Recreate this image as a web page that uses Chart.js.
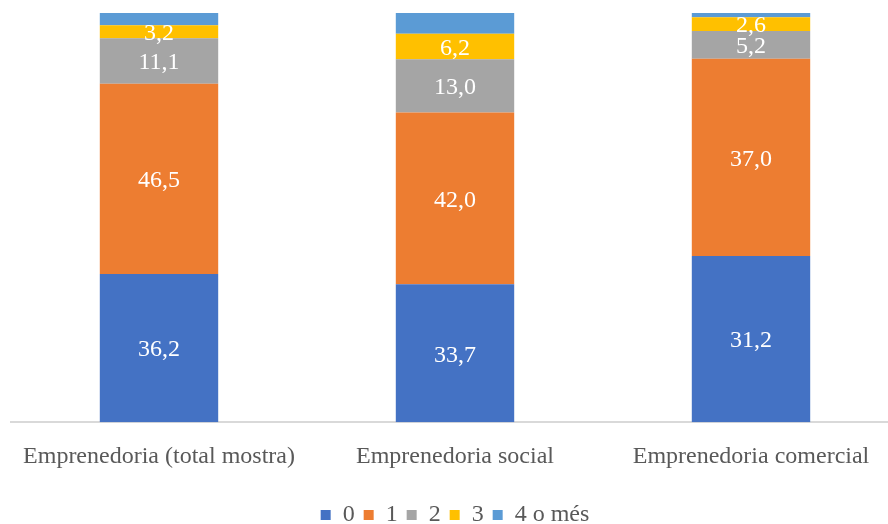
<!DOCTYPE html>
<html><head><meta charset="utf-8">
<script src="https://cdn.jsdelivr.net/npm/chart.js@4"></script>
<style>html,body{margin:0;padding:0;overflow:hidden;background:#fff}#wrap{position:absolute;left:0;top:0;width:900px;height:524px}</style>
</head><body>
<div id="wrap"><canvas id="c" width="900" height="524"></canvas></div>
<script>
const categories = ['Emprenedoria (total mostra)', 'Emprenedoria social', 'Emprenedoria comercial'];
const seriesNames = ['0', '1', '2', '3', '4 o més'];
const s0 = [36.2, 33.7, 31.2];
const s1 = [46.5, 42.0, 37.0];
const s2 = [11.1, 13.0, 5.2];
const s3 = [3.2, 6.2, 2.6];
const s4 = [3.0, 5.1, 0.8];
const showLabel = [true, true, true, true, false];
const colors = ['#4472C4', '#ED7D31', '#A5A5A5', '#FFC000', '#5B9BD5'];

const raw = [s0, s1, s2, s3, s4];
const totals = categories.map((_, j) => raw.reduce((a, s) => a + s[j], 0));
const datasets = raw.map((s, i) => ({
  label: seriesNames[i],
  data: s.map((v, j) => v / totals[j] * 100),
  backgroundColor: colors[i],
  borderWidth: 0,
  barPercentage: 0.4,
  categoryPercentage: 1.0
}));

const serif = '"Liberation Serif", "Times New Roman", serif';
const valueLabels = {
  id: 'valueLabels',
  afterDatasetsDraw(chart) {
    const ctx = chart.ctx;
    ctx.save();
    ctx.fillStyle = '#ffffff';
    ctx.font = '24px ' + serif;
    ctx.textAlign = 'center';
    ctx.textBaseline = 'middle';
    chart.data.datasets.forEach((ds, i) => {
      if (!showLabel[i]) return;
      chart.getDatasetMeta(i).data.forEach((bar, j) => {
        const y = (bar.y + bar.base) / 2;
        ctx.fillText(raw[i][j].toFixed(1).replace('.', ','), bar.x, y + 2);
      });
    });
    ctx.restore();
  }
};

new Chart(document.getElementById('c'), {
  type: 'bar',
  data: { labels: categories, datasets },
  options: {
    responsive: false,
    animation: false,
    layout: { padding: { left: 11, right: 1, top: 13, bottom: -13 } },
    scales: {
      x: {
        stacked: true,
        grid: { display: false },
        border: { display: true, color: '#D9D9D9', width: 2 },
        ticks: { color: '#595959', font: { family: serif, size: 24 }, padding: 12, maxRotation: 0 },
        afterFit(scale) { scale.height += 11; }
      },
      y: { stacked: true, display: false, min: 0, max: 100 }
    },
    plugins: {
      legend: {
        position: 'bottom',
        labels: { boxWidth: 10, boxHeight: 10, padding: 9, color: '#595959', font: { family: serif, size: 24 } }
      },
      tooltip: { enabled: false }
    }
  },
  plugins: [valueLabels]
});
</script>
</body></html>
